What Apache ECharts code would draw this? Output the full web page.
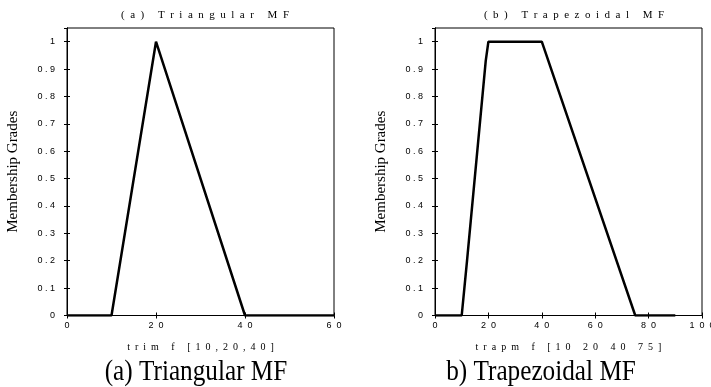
<!DOCTYPE html>
<html><head><meta charset="utf-8">
<script src="https://cdn.jsdelivr.net/npm/echarts@6/dist/echarts.min.js"></script>
<style>html,body{margin:0;padding:0;background:#fff}#c{width:711px;height:387px}</style>
</head><body><div id="c"></div>
<script>
var triX = [0, 10, 20, 40, 60];
var triY = [0, 0, 1, 0, 0];
var trapX = [0, 10, 11, 12, 19, 20, 40, 75, 90];
var trapY = [0, 0, 0.1, 0.2, 0.93, 1, 1, 0, 0];
var titleA = '(a) Triangular MF';
var titleB = '(b) Trapezoidal MF';
var xNameA = 'trim f [10,20,40]';
var xNameB = 'trapm f [10 20 40 75]';
var yName = 'Membership Grades';
var captionA = '(a) Triangular MF';
var captionB = 'b) Trapezoidal MF';

// letter-spaced rendering like the original figure
function wide(s){ return s.split(' ').map(function(w){ return w.split('').join('  '); }).join('     '); }
function spaced(s, g){ return String(s).split('').join(g); }
function yFmt(v){ if (v > 1.001) return ''; return spaced(+v.toFixed(1), ' '); }
function xFmt(v){ return spaced(Math.round(v), '  '); }

var serif = 'Liberation Serif';
var sans = 'Liberation Sans';
var grids = [
  {left: 67, right: 377, top: 28, bottom: 71.5, show: true, borderColor: '#000', borderWidth: 1, outerBoundsMode: 'none', containLabel: false},
  {left: 435, right: 9, top: 28, bottom: 71.5, show: true, borderColor: '#000', borderWidth: 1, outerBoundsMode: 'none', containLabel: false}
];
var xMax = [60, 100], xInt = [20, 20];
var xNames = [xNameA, xNameB];
var xAxes = [], yAxes = [];
for (var i = 0; i < 2; i++) {
  xAxes.push({type: 'value', gridIndex: i, min: 0, max: xMax[i], interval: xInt[i], position: 'bottom',
    name: wide(xNames[i]), nameLocation: 'middle', nameGap: 27,
    nameTextStyle: {fontFamily: serif, fontSize: 10, color: '#000'},
    axisLine: {lineStyle: {color: '#000', width: 1}},
    axisTick: {inside: true, length: 3, lineStyle: {color: '#000'}},
    axisLabel: {formatter: xFmt, fontFamily: sans, fontSize: 9, color: '#000', margin: 6, hideOverlap: false},
    splitLine: {show: false}});
  xAxes.push({type: 'value', gridIndex: i, min: 0, max: xMax[i], interval: xInt[i], position: 'top',
    axisLine: {lineStyle: {color: '#000', width: 1}},
    axisTick: {inside: true, length: 3, lineStyle: {color: '#000'}},
    axisLabel: {show: false}, splitLine: {show: false}});
  yAxes.push({type: 'value', gridIndex: i, min: 0, max: 1.05, interval: 0.1, position: 'left',
    name: yName, nameLocation: 'middle', nameGap: 46, nameRotate: 90,
    nameTextStyle: {fontFamily: serif, fontSize: 15, color: '#000'},
    axisLine: {show: true, lineStyle: {color: '#000', width: 1}},
    axisTick: {show: true, inside: true, length: 3, lineStyle: {color: '#000'}},
    axisLabel: {formatter: yFmt, fontFamily: sans, fontSize: 9, color: '#000', margin: 12, showMaxLabel: false},
    splitLine: {show: false}});
  yAxes.push({type: 'value', gridIndex: i, min: 0, max: 1.05, interval: 0.1, position: 'right',
    axisLine: {show: true, lineStyle: {color: '#000', width: 1}},
    axisTick: {show: true, inside: true, length: 3, lineStyle: {color: '#000'}},
    axisLabel: {show: false}, splitLine: {show: false}});
}
function pairs(xs, ys){ return xs.map(function(x, k){ return [x, ys[k]]; }); }
function caption(text, x){
  return {type: 'text', x: x, y: 372, scaleX: 0.87, silent: true,
    style: {text: text, font: '29px "Liberation Serif"', fill: '#000', textAlign: 'center', textVerticalAlign: 'middle'}};
}
var chart = echarts.init(document.getElementById('c'), null, {renderer: 'canvas'});
chart.setOption({
  animation: false,
  backgroundColor: '#fff',
  title: [
    {text: wide(titleA), left: 200, top: 5, textAlign: 'center', textStyle: {fontFamily: serif, fontSize: 11, fontWeight: 'normal', color: '#000'}},
    {text: wide(titleB), left: 569, top: 5, textAlign: 'center', textStyle: {fontFamily: serif, fontSize: 11, fontWeight: 'normal', color: '#000'}}
  ],
  graphic: [caption(captionA, 196), caption(captionB, 541)],
  grid: grids,
  xAxis: xAxes,
  yAxis: yAxes,
  series: [
    {type: 'line', xAxisIndex: 0, yAxisIndex: 0, data: pairs(triX, triY), showSymbol: false, lineStyle: {color: '#000', width: 2.5}},
    {type: 'line', xAxisIndex: 2, yAxisIndex: 2, data: pairs(trapX, trapY), showSymbol: false, lineStyle: {color: '#000', width: 2.5}}
  ]
});
</script>
</body></html>
